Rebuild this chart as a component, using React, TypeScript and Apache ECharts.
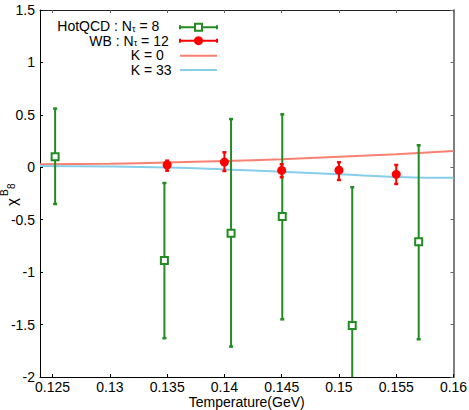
import React, { useEffect, useRef } from "react";
import * as echarts from "echarts";

// ---- data ----
const xTicks = [0.125, 0.13, 0.135, 0.14, 0.145, 0.15, 0.155, 0.16];

const hotX = [0.12522, 0.13476, 0.14058, 0.14505, 0.15116, 0.15696];
const hotY = [0.1, -0.89, -0.63, -0.47, -1.51, -0.71];
const hotLow = [-0.35, -1.63, -1.71, -1.45, -2.2, -1.64];
const hotHigh = [0.56, -0.15, 0.46, 0.505, -0.19, 0.21];

const wbX = [0.135, 0.14, 0.145, 0.15, 0.155];
const wbY = [0.022, 0.05, -0.03, -0.028, -0.067];
const wbLow = [-0.032, -0.035, -0.095, -0.121, -0.159];
const wbHigh = [0.063, 0.143, 0.029, 0.048, 0.022];

const kX = [0.1239, 0.13, 0.135, 0.14, 0.145, 0.15, 0.155, 0.16];
const k0Y = [0.028, 0.034, 0.045, 0.06, 0.077, 0.1, 0.125, 0.156];
const k33Y = [0.012, 0.008, -0.002, -0.02, -0.042, -0.066, -0.092, -0.1];

const GREEN = "#228b22";
const RED = "#ff0000";
const SALMON = "#fa8072";
const SKY = "#87ceeb";
const FONT = "'Liberation Sans', Arial, sans-serif";

function errRender(color: string, capW: number) {
  return (params: any, api: any) => {
    const x = api.value(0);
    const lo = api.value(1);
    const hi = api.value(2);
    const pLo = api.coord([x, lo]);
    const pHi = api.coord([x, hi]);
    const cs = params.coordSys;
    const top = cs.y;
    const bottom = cs.y + cs.height;
    const yLo = Math.min(pLo[1], bottom);
    const yHi = Math.max(pHi[1], top);
    const st = { stroke: color, lineWidth: 2 };
    const children: any[] = [
      { type: "line", shape: { x1: pLo[0], y1: yLo, x2: pLo[0], y2: yHi }, style: st },
    ];
    if (pLo[1] <= bottom)
      children.push({ type: "line", shape: { x1: pLo[0] - capW / 2, y1: pLo[1], x2: pLo[0] + capW / 2, y2: pLo[1] }, style: { stroke: color, lineWidth: 2.5 } });
    if (pHi[1] >= top)
      children.push({ type: "line", shape: { x1: pHi[0] - capW / 2, y1: pHi[1], x2: pHi[0] + capW / 2, y2: pHi[1] }, style: { stroke: color, lineWidth: 2.5 } });
    return { type: "group", children };
  };
}

export default function App() {
  const ref = useRef<HTMLDivElement>(null);
  useEffect(() => {
    if (!ref.current) return;
    const chart = echarts.init(ref.current, null, { renderer: "svg" });
    const fmt = (v: number) => String(+Number(v).toFixed(3));
    const tickCommon = { show: true, inside: true, length: 3, lineStyle: { color: "#000", width: 1 } };
    const legRich = {
      m: { fontSize: 14, fontFamily: FONT, color: "#000", verticalAlign: "bottom", lineHeight: 13 },
      s: { fontSize: 9, fontFamily: FONT, color: "#000", verticalAlign: "bottom", lineHeight: 9, padding: [4, 0, 0, 0] },
    };
    const legText = (x: number, y: number, text: string) => ({
      type: "text",
      x,
      y,
      style: { text, rich: legRich, verticalAlign: "middle", align: "left" },
    });
    const capLine = (x: number, y: number, color: string) => ({
      type: "line",
      shape: { x1: x, y1: y - 2, x2: x, y2: y + 2 },
      style: { stroke: color, lineWidth: 2 },
    });
    const option: any = {
      animation: false,
      backgroundColor: "#fff",
      grid: { left: 40, top: 10, width: 413.5, height: 367, containLabel: false, outerBoundsMode: "none" },
      xAxis: [
        {
          type: "value",
          min: 0.1239,
          max: 0.16,
          name: "Temperature(GeV)",
          nameLocation: "middle",
          nameGap: 18,
          nameMoveOverlap: false,
          nameTextStyle: { fontSize: 14, lineHeight: 14, fontFamily: FONT, color: "#000" },
          axisLine: { show: true, onZero: false, lineStyle: { color: "#000", width: 1 } },
          axisTick: { ...tickCommon, customValues: xTicks },
          axisLabel: { customValues: xTicks, formatter: fmt, fontSize: 14, lineHeight: 14, fontFamily: FONT, color: "#000", margin: 3 },
          splitLine: { show: false },
        },
        {
          type: "value",
          position: "top",
          min: 0.1239,
          max: 0.16,
          axisLine: { show: true, onZero: false, lineStyle: { color: "#222", width: 1 } },
          axisTick: { ...tickCommon, customValues: xTicks, lineStyle: { color: "#666" } },
          axisLabel: { show: false },
          splitLine: { show: false },
        },
      ],
      yAxis: [
        {
          type: "value",
          min: -2,
          max: 1.5,
          interval: 0.5,
          axisLine: { show: true, onZero: false, lineStyle: { color: "#000", width: 1 } },
          axisTick: tickCommon,
          axisLabel: { fontSize: 14, fontFamily: FONT, color: "#000", margin: 5 },
          splitLine: { show: false },
        },
        {
          type: "value",
          position: "right",
          min: -2,
          max: 1.5,
          interval: 0.5,
          axisLine: { show: true, onZero: false, lineStyle: { color: "#808080", width: 2 } },
          axisTick: { ...tickCommon, lineStyle: { color: "#666" } },
          axisLabel: { show: false },
          splitLine: { show: false },
        },
      ],
      series: [
        {
          type: "line",
          name: "K = 0",
          data: kX.map((x, i) => [x, k0Y[i]]),
          smooth: true,
          showSymbol: false,
          lineStyle: { color: SALMON, width: 2 },
          z: 1,
        },
        {
          type: "line",
          name: "K = 33",
          data: kX.map((x, i) => [x, k33Y[i]]),
          smooth: true,
          showSymbol: false,
          lineStyle: { color: SKY, width: 2 },
          z: 1,
        },
        {
          type: "custom",
          name: "HotQCD err",
          data: hotX.map((x, i) => [x, hotLow[i], hotHigh[i]]),
          renderItem: errRender(GREEN, 4),
          encode: { x: 0, y: [1, 2] },
          z: 2,
        },
        {
          type: "scatter",
          name: "HotQCD",
          data: hotX.map((x, i) => [x, hotY[i]]),
          symbol: "rect",
          symbolSize: 7,
          itemStyle: { color: "#fff", borderColor: GREEN, borderWidth: 2, opacity: 1 },
          z: 3,
        },
        {
          type: "custom",
          name: "WB err",
          data: wbX.map((x, i) => [x, wbLow[i], wbHigh[i]]),
          renderItem: errRender(RED, 4),
          encode: { x: 0, y: [1, 2] },
          z: 4,
        },
        {
          type: "scatter",
          name: "WB",
          data: wbX.map((x, i) => [x, wbY[i]]),
          symbol: "circle",
          symbolSize: 9,
          itemStyle: { color: RED, opacity: 1 },
          z: 5,
        },
      ],
      graphic: [
        // y-axis title (rotated)
        {
          type: "group",
          x: 11,
          y: 206,
          rotation: Math.PI / 2,
          children: [
            { type: "text", x: 0, y: 0, style: { text: "χ", fontSize: 15, fontFamily: FONT, fill: "#000", verticalAlign: "middle", align: "left" } },
            { type: "text", x: 10, y: -7, style: { text: "B", fontSize: 10, fontFamily: FONT, fill: "#000", verticalAlign: "middle", align: "left" } },
            { type: "text", x: 17, y: 0, style: { text: "8", fontSize: 10, fontFamily: FONT, fill: "#000", verticalAlign: "middle", align: "left" } },
          ],
        },
        // legend
        legText(57.3, 26.6, "{m|HotQCD : N}{s|τ}{m| = 8}"),
        legText(89.3, 41.3, "{m|WB : N}{s|τ}{m| = 12}"),
        legText(130.7, 55.7, "{m|K = 0}"),
        legText(130.7, 70.4, "{m|K = 33}"),
        { type: "line", shape: { x1: 180, y1: 27.3, x2: 217, y2: 27.3 }, style: { stroke: GREEN, lineWidth: 2 } },
        capLine(180, 27.3, GREEN),
        capLine(217, 27.3, GREEN),
        { type: "rect", shape: { x: 195, y: 23.8, width: 7, height: 7 }, style: { fill: "#fff", stroke: GREEN, lineWidth: 2 } },
        { type: "line", shape: { x1: 180, y1: 40.7, x2: 217, y2: 40.7 }, style: { stroke: RED, lineWidth: 2 } },
        capLine(180, 40.7, RED),
        capLine(217, 40.7, RED),
        { type: "circle", shape: { cx: 198.5, cy: 40.7, r: 4.5 }, style: { fill: RED } },
        { type: "line", shape: { x1: 180, y1: 55.7, x2: 217, y2: 55.7 }, style: { stroke: SALMON, lineWidth: 2 } },
        { type: "line", shape: { x1: 180, y1: 70, x2: 217, y2: 70 }, style: { stroke: SKY, lineWidth: 2 } },
      ],
    };
    chart.setOption(option);
    return () => chart.dispose();
  }, []);
  return (
    <div
      ref={ref}
      style={{ position: "fixed", left: 0, top: 0, width: 469, height: 410 }}
    />
  );
}
